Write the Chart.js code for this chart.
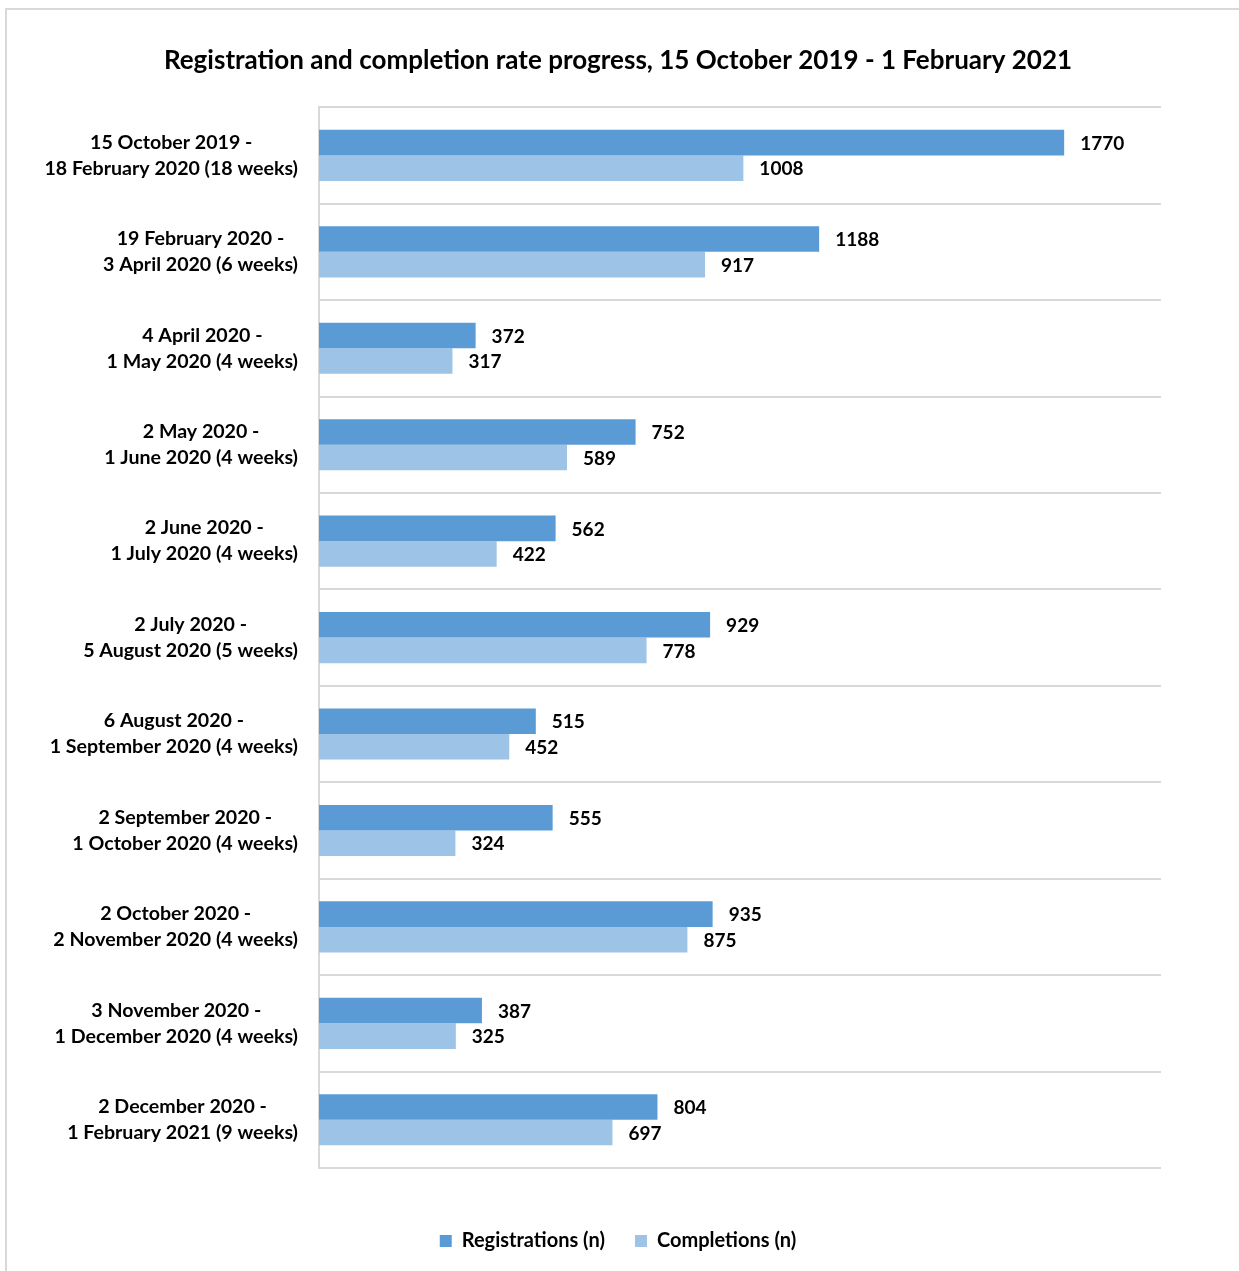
<!DOCTYPE html>
<html>
<head>
<meta charset="utf-8">
<script src="https://cdn.jsdelivr.net/npm/chart.js@4"></script>
<style>
  body { margin: 0; background: #fff; }
  #frame { position: absolute; left: 5px; top: 8px; width: 1300px; height: 1350px; border: 2px solid #d9d9d9; }
  #wrap { position: absolute; left: 0; top: 0; width: 1239px; height: 1271px; }
</style>
</head>
<body>
<div id="frame"></div>
<div id="wrap"><canvas id="progressChart" width="1239" height="1271"></canvas></div>
<script>
var periods = [
    ['15 October 2019 -', '18 February 2020 (18 weeks)'],
    ['19 February 2020 -', '3 April 2020 (6 weeks)'],
    ['4 April 2020 -', '1 May 2020 (4 weeks)'],
    ['2 May 2020 -', '1 June 2020 (4 weeks)'],
    ['2 June 2020 -', '1 July 2020 (4 weeks)'],
    ['2 July 2020 -', '5 August 2020 (5 weeks)'],
    ['6 August 2020 -', '1 September 2020 (4 weeks)'],
    ['2 September 2020 -', '1 October 2020 (4 weeks)'],
    ['2 October 2020 -', '2 November 2020 (4 weeks)'],
    ['3 November 2020 -', '1 December 2020 (4 weeks)'],
    ['2 December 2020 -', '1 February 2021 (9 weeks)']
];
var registrations = [1770, 1188, 372, 752, 562, 929, 515, 555, 935, 387, 804];
var completions = [1008, 917, 317, 589, 422, 778, 452, 324, 875, 325, 697];

var FONT = "Lato, 'Open Sans', sans-serif";

// value labels at the end of each bar
var barValues = {
    id: 'barValues',
    afterDatasetsDraw: (chart) => {
        var ctx = chart.ctx;
        ctx.save();
        ctx.font = 'bold 19px ' + FONT;
        ctx.fillStyle = '#000';
        ctx.textAlign = 'left';
        ctx.textBaseline = 'middle';
        chart.data.datasets.forEach((ds, i) => {
            chart.getDatasetMeta(i).data.forEach((bar, j) => {
                ctx.fillText(ds.data[j], bar.x + 16, bar.y + 1);
            });
        });
        ctx.restore();
    }
};

// two-line category labels, each line centred, block right-aligned
var periodLabels = {
    id: 'periodLabels',
    afterDraw: (chart) => {
        var ctx = chart.ctx;
        var yScale = chart.scales.y;
        var right = chart.chartArea.left - 21;
        ctx.save();
        ctx.font = 'bold 19.6px ' + FONT;
        ctx.fillStyle = '#000';
        ctx.textAlign = 'center';
        ctx.textBaseline = 'middle';
        periods.forEach((lines, i) => {
            var y = yScale.getPixelForTick(i);
            var w = Math.max(...lines.map(l => ctx.measureText(l).width));
            var cx = right - w / 2;
            lines.forEach((l, k) => {
                ctx.fillText(l, cx, y + (k - (lines.length - 1) / 2) * 26);
            });
        });
        ctx.restore();
    }
};

new Chart(document.getElementById('progressChart'), {
    type: 'bar',
    data: {
        labels: periods,
        datasets: [
            {
                label: 'Registrations (n)',
                data: registrations,
                backgroundColor: '#5b9bd5',
                categoryPercentage: 0.53,
                barPercentage: 1
            },
            {
                label: 'Completions (n)',
                data: completions,
                backgroundColor: '#9dc3e6',
                categoryPercentage: 0.53,
                barPercentage: 1
            }
        ]
    },
    options: {
        indexAxis: 'y',
        responsive: false,
        animation: false,
        layout: {
            padding: { left: 75, right: 78, top: 0, bottom: 10 }
        },
        scales: {
            x: {
                min: 0,
                max: 2000,
                ticks: { display: false },
                grid: { display: false },
                border: { display: false },
                afterFit: (scale) => { scale.height = 33; }
            },
            y: {
                ticks: { display: false },
                grid: {
                    offset: true,
                    color: '#d9d9d9',
                    lineWidth: 2,
                    drawTicks: false
                },
                border: { display: true, color: '#d9d9d9', width: 2 },
                afterFit: (scale) => { scale.width = 244; }
            }
        },
        plugins: {
            title: {
                display: true,
                text: 'Registration and completion rate progress, 15 October 2019 - 1 February 2021',
                color: '#000',
                font: { family: FONT, size: 26, weight: 'bold' },
                padding: { top: 45, bottom: 31 }
            },
            legend: {
                position: 'bottom',
                labels: {
                    color: '#000',
                    font: { family: FONT, size: 20, weight: 'bold' },
                    boxWidth: 12,
                    boxHeight: 12,
                    padding: 30
                }
            },
            tooltip: { enabled: false }
        }
    },
    plugins: [barValues, periodLabels]
});
</script>
</body>
</html>
